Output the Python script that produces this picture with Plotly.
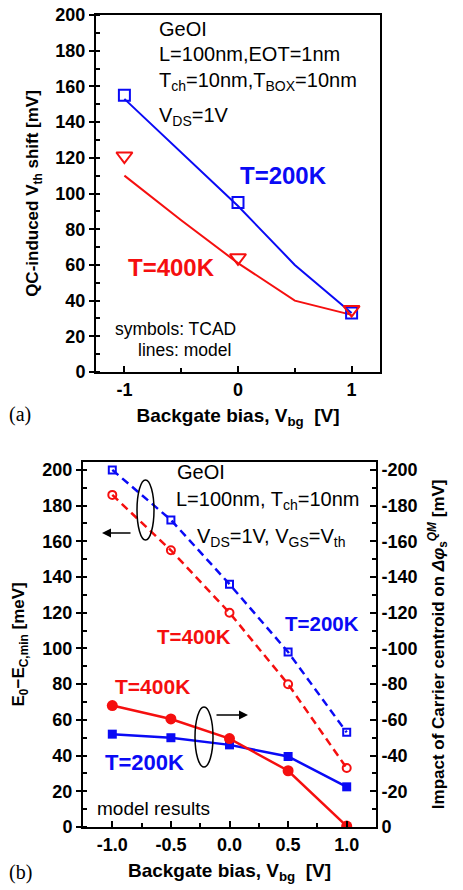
import plotly.graph_objects as go

# ---------------- data: panel (a) ----------------
vbg_a_tcad = [-1, 0, 1]
tcad_200K = [155, 95, 33]
tcad_400K = [121, 64, 35]
vbg_a_model = [-1, -0.5, 0, 0.5, 1]
model_200K = [153, 123, 93, 60, 33]
model_400K = [110, 85, 61, 40, 32]
a_yticks = [0, 20, 40, 60, 80, 100, 120, 140, 160, 180, 200]
a_xticks = [-1, 0, 1]
a_xticktext = ["-1", "0", "1"]

# ---------------- data: panel (b) ----------------
vbg_b = [-1.0, -0.5, 0.0, 0.5, 1.0]
e0_200K = [200, 172, 136, 98, 53]
e0_400K = [186, 155, 120, 80, 33]
dphi_200K = [-52, -50, -46, -39.5, -22.5]
dphi_400K = [-68, -60.5, -49.5, -31.5, -0.5]
b_xticks = [-1.0, -0.5, 0.0, 0.5, 1.0]
b_xticktext = ["-1.0", "-0.5", "0.0", "0.5", "1.0"]
b_yticks = [0, 20, 40, 60, 80, 100, 120, 140, 160, 180, 200]
b_y2ticks = [0, -20, -40, -60, -80, -100, -120, -140, -160, -180, -200]
b_y2ticktext = ["0", "-20", "-40", "-60", "-80", "-100", "-120", "-140", "-160", "-180", "-200"]

W, H = 463, 890
BLUE = "rgb(10,10,245)"
RED = "rgb(245,15,15)"
FONT = "Liberation Sans"


def px(x):
    return x / W


def py(y):
    return 1 - y / H


fig = go.Figure()

# panel (a)
fig.add_trace(go.Scatter(x=vbg_a_model, y=model_200K, mode="lines", line=dict(color=BLUE, width=2),
                         xaxis="x", yaxis="y", showlegend=False))
fig.add_trace(go.Scatter(x=vbg_a_model, y=model_400K, mode="lines", line=dict(color=RED, width=2),
                         xaxis="x", yaxis="y", showlegend=False))
fig.add_trace(go.Scatter(x=vbg_a_tcad, y=tcad_200K, mode="markers",
                         marker=dict(symbol="square-open", size=11, color=BLUE, line=dict(width=2)),
                         xaxis="x", yaxis="y", showlegend=False))
fig.add_trace(go.Scatter(x=vbg_a_tcad, y=tcad_400K, mode="markers",
                         marker=dict(symbol="triangle-down-open", size=14, color=RED, line=dict(width=2)),
                         xaxis="x", yaxis="y", showlegend=False))

# panel (b) left axis (dashed)
fig.add_trace(go.Scatter(x=vbg_b, y=e0_200K, mode="lines+markers",
                         line=dict(color=BLUE, width=2.5, dash="8px,5px"),
                         marker=dict(symbol="square-open", size=7, color=BLUE, line=dict(width=2)),
                         xaxis="x2", yaxis="y2", showlegend=False))
fig.add_trace(go.Scatter(x=vbg_b, y=e0_400K, mode="lines+markers",
                         line=dict(color=RED, width=2.5, dash="8px,5px"),
                         marker=dict(symbol="circle-open", size=8, color=RED, line=dict(width=2)),
                         xaxis="x2", yaxis="y2", showlegend=False))
# panel (b) right axis (solid)
fig.add_trace(go.Scatter(x=vbg_b, y=dphi_200K, mode="lines+markers",
                         line=dict(color=BLUE, width=2.5),
                         marker=dict(symbol="square", size=9, color=BLUE),
                         xaxis="x2", yaxis="y3", showlegend=False))
fig.add_trace(go.Scatter(x=vbg_b, y=dphi_400K, mode="lines+markers",
                         line=dict(color=RED, width=2.5),
                         marker=dict(symbol="circle", size=11, color=RED),
                         xaxis="x2", yaxis="y3", showlegend=False))

tickfont = dict(family=FONT, size=18, color="black", weight="bold")
xtitlefont = dict(family=FONT, size=19, color="black", weight="bold")
ytitlefont = dict(family=FONT, size=17, color="black", weight="bold")

common = dict(showline=True, linecolor="black", linewidth=2, showgrid=False, zeroline=False,
              tickcolor="black", tickwidth=1.5, tickfont=tickfont, automargin=False)

fig.update_layout(
    width=W, height=H, margin=dict(l=0, r=0, t=0, b=0),
    paper_bgcolor="white", plot_bgcolor="white",
    font=dict(family=FONT, color="black"),
    xaxis=dict(domain=[px(96), px(380)], anchor="y", range=[-1.25, 1.25], mirror=True,
               tickvals=a_xticks, ticktext=a_xticktext, ticks="inside", ticklen=6,
               minor=dict(dtick=0.5, tick0=0, ticks="inside", ticklen=4, tickcolor="black"),
               title=dict(text="Backgate bias, V<sub>bg</sub>  [V]", font=xtitlefont, standoff=10),
               **common),
    yaxis=dict(domain=[py(372), py(15)], anchor="x", range=[0, 200], mirror=True,
               tickvals=a_yticks, ticks="outside", ticklen=5,
               minor=dict(dtick=10, tick0=0, ticks="inside", ticklen=4, tickcolor="black"),
               title=dict(text="QC-induced V<sub>th</sub> shift [mV]", font=ytitlefont, standoff=12),
               **common),
    xaxis2=dict(domain=[px(83), px(376)], anchor="y2", range=[-1.25, 1.25], mirror=True,
                tickvals=b_xticks, ticktext=b_xticktext, ticks="inside", ticklen=6,
                minor=dict(dtick=0.25, tick0=0, ticks="inside", ticklen=4, tickcolor="black"),
                title=dict(text="Backgate bias, V<sub>bg</sub>  [V]", font=xtitlefont, standoff=10),
                **common),
    yaxis2=dict(domain=[py(827), py(461.7)], anchor="x2", range=[0, 204.6],
                tickvals=b_yticks, ticks="outside", ticklen=5,
                minor=dict(dtick=10, tick0=0, ticks="inside", ticklen=4, tickcolor="black"),
                title=dict(text="E<sub>0</sub>\u2212E<sub>C,min</sub> [meV]", font=ytitlefont, standoff=13),
                **common),
    yaxis3=dict(domain=[py(827), py(461.7)], anchor="x2", overlaying="y2", side="right",
                range=[0, -204.6], tickvals=b_y2ticks, ticktext=b_y2ticktext,
                ticks="inside", ticklen=6,
                minor=dict(dtick=10, tick0=0, ticks="inside", ticklen=4, tickcolor="black"),
                title=dict(text="Impact of Carrier centroid on <i>\u0394\u03c6</i><sub>s</sub><sup><i>QM</i></sup> [mV]",
                           font=ytitlefont, standoff=15),
                **common),
)

ann = []


def txt(text, x, y, size, color="black", bold=False, xanchor="left", family=FONT):
    ann.append(dict(text=text, x=px(x), y=py(y), xref="paper", yref="paper", showarrow=False,
                    xanchor=xanchor, yanchor="middle",
                    font=dict(family=family, size=size, color=color, weight="bold" if bold else "normal")))


# panel (a) texts
txt("GeOI", 157, 29, 20)
txt("L=100nm,EOT=1nm", 157, 54, 20)
txt("T<sub>ch</sub>=10nm,T<sub>BOX</sub>=10nm", 157, 81, 20)
txt("V<sub>DS</sub>=1V", 157, 116, 20)
txt("T=200K", 238, 176, 24, BLUE, True)
txt("T=400K", 126, 267, 24, RED, True)
txt("symbols: TCAD", 113, 329, 17.5)
txt("lines: model", 136, 350, 17.5)
txt("(a)", 7, 414, 20, family="Liberation Serif")

# panel (b) texts
txt("GeOI", 175, 472, 20)
txt("L=100nm, T<sub>ch</sub>=10nm", 174, 500, 20)
txt("V<sub>DS</sub>=1V, V<sub>GS</sub>=V<sub>th</sub>", 195, 537, 20)
txt("T=200K", 283, 623, 20.5, BLUE, True)
txt("T=400K", 155, 636, 20.5, RED, True)
txt("T=400K", 113, 686, 21, RED, True)
txt("T=200K", 103, 762, 22, BLUE, True)
txt("model results", 95, 808, 19)
txt("(b)", 7, 872, 20, family="Liberation Serif")

# arrows (head position in paper coords, tail offset in pixels)
ann.append(dict(x=px(102), y=py(533), xref="paper", yref="paper", ax=30, ay=0,
                text="", showarrow=True, arrowhead=2,
                arrowsize=1.2, arrowwidth=1.5, arrowcolor="black"))
ann.append(dict(x=px(248), y=py(715), xref="paper", yref="paper", ax=-33, ay=0,
                text="", showarrow=True, arrowhead=2,
                arrowsize=1.2, arrowwidth=1.5, arrowcolor="black"))
fig.update_layout(annotations=ann)

# ellipses
fig.add_shape(type="circle", xref="paper", yref="paper", x0=px(137), x1=px(154), y0=py(540), y1=py(480),
              line=dict(color="black", width=1.5))
fig.add_shape(type="circle", xref="paper", yref="paper", x0=px(195), x1=px(213), y0=py(767), y1=py(707),
              line=dict(color="black", width=1.5))

fig.write_html("out.html")
